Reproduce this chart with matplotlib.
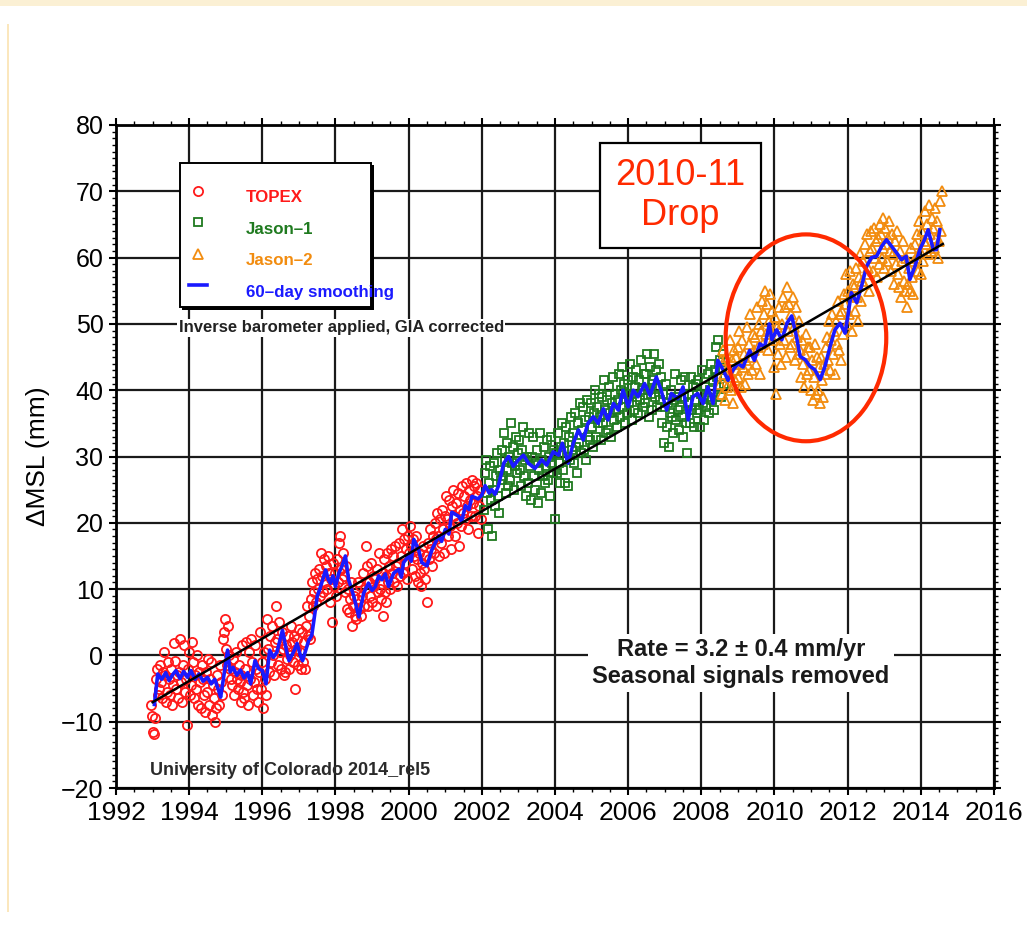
import matplotlib
matplotlib.use("Agg")
import matplotlib.pyplot as plt
from matplotlib.patches import Rectangle, Ellipse
from matplotlib.ticker import MultipleLocator
import numpy as np

plt.rcParams['font.family'] = ['Liberation Sans', 'DejaVu Sans']

# altimeter repeat cycle, used as the sampling interval of each mission
cycle_yr = 9.9156 / 365.25

topex_start = 1992.96
topex_mm = [
    -7.5, -9.2, -11.6, -11.9, -9.5, -3.5, -2.0, -6.0, -5.0,
    -1.5, -4.0, -6.5, -2.5, 0.5, -3.0, -7.0, -5.5, -1.0,
    -3.5, -6.0, -2.0, -7.5, -4.5, 1.8, -0.8, -5.0, -3.0,
    -6.5, -2.5, 2.5, -4.0, -7.0, -1.5, 1.5, -5.5, -3.5,
    -10.5, -2.0, 0.5, -6.0, -4.5, 2.0, -1.0, -6.5, -3.0,
    -5.0, 0.0, -7.5, -2.5, -4.0, -8.0, -1.5, -3.5, -6.0,
    -8.5, -2.5, -5.5, -0.5, -7.5, -3.5, -1.0, -9.0, -4.5,
    -6.5, -10.0, -8.0, -3.0, -5.0, -7.5, -1.5, -4.0, -6.0,
    2.5, 3.5, 5.5, 1.0, -1.5, 4.5, 0.0, -2.0, -3.5,
    -4.5, -0.5, -6.0, -2.5, 0.5, -3.5, -5.0, -1.5, -4.0,
    -7.0, -3.0, 1.5, -5.5, -6.5, -2.0, 2.0, -4.5, -7.5,
    0.5, -3.5, 2.5, -1.0, -6.0, -4.0, 1.5, -2.0, -5.0,
    -7.0, -2.5, 3.5, -5.0, -1.0, -8.0, 0.5, -3.5, -6.0,
    5.5, 1.0, -2.5, 3.0, -1.0, 4.5, 0.0, -3.0, 2.0,
    7.5, 2.5, -1.5, 5.0, 0.5, -2.0, 3.5, 1.0, -3.0,
    -2.5, 1.5, -0.5, 3.0, -2.0, 0.0, 4.5, 2.0, -1.0,
    3.0, -5.0, 1.0, 2.5, -1.5, 4.0, 0.5, -2.0, 3.5,
    -1.0, 2.0, -2.0, 4.5, 7.5, 3.0, 6.0, 2.5, 8.5,
    11.0, 7.5, 9.5, 12.5, 8.0, 11.5, 10.0, 13.0, 9.0,
    15.5, 12.0, 9.5, 14.5, 11.0, 13.5, 10.0, 15.0, 12.5,
    8.0, 11.5, 5.0, 14.0, 10.5, 12.5, 9.0, 14.5, 11.0,
    17.0, 18.0, 13.0, 11.5, 15.5, 12.0, 9.5, 13.5, 7.0,
    10.0, 6.5, 8.5, 11.0, 4.5, 7.5, 9.0, 6.0, 5.5,
    8.5, 11.0, 7.0, 10.5, 6.0, 9.0, 12.5, 7.5, 10.0,
    16.5, 13.5, 7.5, 11.0, 9.0, 14.0, 8.0, 12.0, 10.5,
    11.5, 7.5, 13.0, 9.5, 15.5, 10.0, 8.5, 12.5, 6.0,
    14.5, 9.5, 12.0, 8.0, 15.5, 11.0, 13.5, 10.0, 16.0,
    12.5, 15.0, 11.0, 16.5, 13.5, 10.5, 14.0, 17.0, 12.0,
    15.0, 19.0, 12.5, 17.5, 14.0, 16.0, 11.5, 18.0, 15.5,
    19.5, 16.5, 13.0, 17.5, 15.0, 12.0, 18.0, 14.5, 11.0,
    15.5, 12.5, 10.5, 14.0, 16.5, 13.0, 11.5, 15.0, 8.0,
    17.0, 14.5, 19.0, 16.0, 13.5, 18.0, 15.5, 20.0, 17.5,
    21.5, 18.0, 15.0, 20.5, 17.0, 22.0, 19.0, 15.5, 21.0,
    24.0, 20.5, 18.0, 23.5, 19.5, 16.0, 22.5, 25.0, 21.0,
    18.0, 23.0, 20.0, 24.5, 16.5, 22.0, 19.5, 25.5, 21.5,
    24.0, 20.5, 26.0, 22.5, 19.0, 25.0, 23.5, 21.0, 26.5,
    23.0, 25.5, 21.0, 26.0, 24.0, 18.5, 22.5, 25.0, 20.5,
]

jason1_start = 2002.05
jason1_mm = [
    22.0, 27.5, 29.5, 24.5, 19.0, 26.0, 28.5, 23.5, 18.0,
    25.0, 29.0, 22.5, 27.0, 30.5, 24.0, 21.5, 28.0, 26.5,
    31.0, 27.0, 33.5, 29.5, 24.5, 32.0, 28.0, 25.5, 30.0,
    26.5, 35.0, 29.0, 31.5, 25.0, 28.5, 33.0, 27.5, 30.5,
    32.5, 28.0, 25.5, 31.0, 34.5, 27.0, 29.5, 24.0, 30.0,
    26.0, 33.5, 28.5, 23.5, 30.0, 33.0, 27.0, 25.0, 29.0,
    31.0, 23.0, 28.0, 33.5, 24.5, 29.5, 27.0, 31.5, 26.0,
    28.5, 32.5, 26.5, 30.0, 24.0, 33.0, 29.0, 27.5, 31.0,
    20.5, 30.5, 27.5, 33.5, 29.0, 26.0, 31.5, 35.0, 28.0,
    32.0, 26.0, 34.5, 30.0, 25.5, 33.0, 29.5, 36.0, 31.0,
    33.5, 29.0, 36.5, 31.5, 27.5, 35.0, 32.0, 38.0, 30.5,
    34.0, 37.5, 31.0, 35.5, 29.5, 38.5, 33.0, 36.0, 32.5,
    38.0, 34.5, 31.5, 36.5, 40.0, 33.0, 37.5, 35.0, 39.5,
    36.0, 32.5, 39.0, 35.0, 41.5, 37.0, 33.5, 38.5, 34.0,
    40.5, 36.5, 33.0, 38.0, 42.0, 35.5, 39.5, 37.0, 34.5,
    38.5, 42.5, 36.0, 40.0, 43.5, 37.5, 41.0, 35.0, 39.5,
    36.5, 41.5, 38.0, 44.0, 39.5, 35.5, 42.0, 37.0, 40.5,
    43.0, 39.0, 36.5, 41.5, 38.5, 44.5, 40.0, 37.5, 42.5,
    38.0, 42.5, 45.5, 40.0, 36.0, 43.5, 39.5, 41.0, 37.0,
    41.5, 45.5, 39.0, 43.0, 37.5, 40.5, 44.0, 38.5, 42.0,
    35.0, 39.5, 32.0, 37.5, 41.0, 34.5, 38.0, 31.5, 36.5,
    40.0, 36.0, 33.5, 38.5, 42.5, 35.5, 39.0, 37.0, 34.0,
    37.5, 41.5, 36.0, 33.0, 39.0, 42.0, 35.0, 30.5, 38.0,
    39.5, 35.0, 42.0, 37.0, 40.5, 34.5, 38.5, 41.0, 36.5,
    41.5, 37.0, 34.5, 39.5, 43.0, 38.0, 35.5, 40.5, 37.5,
    39.0, 42.5, 36.5, 40.0, 44.0, 38.5, 41.5, 37.0, 43.0,
    46.5, 42.0, 47.5, 40.5, 44.5, 39.0, 43.0, 45.5, 41.0,
]

jason2_start = 2008.50
jason2_mm = [
    41.0, 44.5, 39.5, 46.0, 42.5, 38.5, 45.0, 40.5, 43.5,
    42.0, 47.5, 40.0, 44.5, 38.0, 46.0, 41.5, 45.0, 43.0,
    46.5, 42.0, 49.0, 44.0, 40.5, 47.5, 43.5, 45.5, 41.0,
    44.5, 49.5, 42.5, 47.0, 51.5, 45.0, 43.0, 48.5, 46.0,
    48.0, 44.0, 52.5, 46.5, 50.0, 42.5, 49.0, 53.5, 47.0,
    51.5, 55.0, 48.5, 53.0, 46.0, 50.5, 54.5, 49.0, 52.0,
    47.5, 43.5, 51.0, 39.5, 49.5, 45.5, 52.5, 47.0, 44.0,
    50.0, 54.0, 47.5, 52.5, 45.0, 55.5, 49.0, 53.0, 46.5,
    51.5, 47.0, 54.0, 49.5, 44.5, 52.5, 48.0, 45.5, 50.5,
    46.0, 42.0, 47.5, 44.0, 40.5, 45.5, 48.5, 42.5, 46.5,
    43.0, 46.5, 40.0, 44.5, 38.5, 42.0, 47.0, 39.5, 45.0,
    40.0, 43.5, 38.0, 45.0, 41.5, 39.0, 44.0, 42.5, 46.5,
    48.0, 44.5, 50.5, 43.0, 47.5, 51.5, 45.5, 49.0, 42.5,
    50.5, 47.0, 53.5, 46.0, 51.5, 44.5, 52.0, 48.5, 54.5,
    53.0, 57.5, 50.0, 55.0, 51.5, 58.0, 54.5, 49.0, 56.0,
    55.5, 52.0, 58.5, 54.0, 50.5, 57.0, 60.5, 53.5, 56.5,
    59.5, 56.0, 62.0, 57.5, 63.5, 58.5, 55.0, 61.0, 64.0,
    61.5, 58.0, 64.5, 60.0, 62.5, 57.0, 63.0, 59.0, 65.0,
    63.5, 60.0, 66.0, 61.5, 58.5, 64.5, 62.0, 59.5, 63.0,
    65.5, 61.0, 58.0, 63.5, 60.5, 56.0, 62.5, 59.0, 64.0,
    57.5, 55.5, 61.0, 54.0, 59.5, 62.5, 56.5, 55.0, 60.0,
    52.5, 56.0, 58.5, 55.0, 61.5, 57.0, 54.5, 59.5, 62.0,
    60.0, 63.5, 58.0, 65.5, 61.0, 57.5, 64.0, 59.5, 62.5,
    67.0, 62.0, 65.0, 60.5, 68.0, 63.5, 61.0, 66.0, 64.5,
    61.5, 67.5, 63.0, 65.5, 60.0, 62.5, 68.5, 64.0, 70.0,
]

# 60-day smoothed series
smooth_year = [
    1993.05, 1993.14, 1993.25, 1993.36, 1993.45, 1993.55, 1993.64, 1993.75, 1993.85, 1993.95,
    1994.05, 1994.16, 1994.27, 1994.38, 1994.50, 1994.60, 1994.70, 1994.80, 1994.86, 1994.95,
    1995.05, 1995.12, 1995.20, 1995.30, 1995.40, 1995.50, 1995.60, 1995.68, 1995.80, 1995.90,
    1996.00, 1996.10, 1996.20, 1996.30, 1996.40, 1996.55, 1996.65, 1996.73, 1996.85, 1996.95,
    1997.05, 1997.10, 1997.20, 1997.27, 1997.35, 1997.41, 1997.50, 1997.60, 1997.73, 1997.80,
    1997.86, 1997.93, 1998.00, 1998.09, 1998.18, 1998.27, 1998.36, 1998.50, 1998.64, 1998.77,
    1998.90, 1999.00, 1999.09, 1999.18, 1999.27, 1999.36, 1999.45, 1999.59, 1999.73, 1999.80,
    1999.86, 2000.00, 2000.07, 2000.14, 2000.27, 2000.36, 2000.50, 2000.57, 2000.64, 2000.82,
    2000.90, 2001.00, 2001.10, 2001.18, 2001.36, 2001.45, 2001.55, 2001.65, 2001.73, 2001.90,
    2002.00, 2002.09, 2002.20, 2002.27, 2002.36, 2002.45, 2002.60, 2002.73, 2002.86, 2003.00,
    2003.14, 2003.27, 2003.45, 2003.64, 2003.77, 2003.95, 2004.10, 2004.20, 2004.36, 2004.50,
    2004.64, 2004.77, 2004.90, 2005.05, 2005.18, 2005.32, 2005.45, 2005.60, 2005.73, 2005.86,
    2006.00, 2006.14, 2006.27, 2006.45, 2006.60, 2006.77, 2006.90, 2007.05, 2007.18, 2007.36,
    2007.50, 2007.64, 2007.77, 2007.90, 2008.05, 2008.18, 2008.32, 2008.45, 2008.60, 2008.73,
    2008.86, 2009.00, 2009.14, 2009.32, 2009.45, 2009.60, 2009.73, 2009.86, 2009.93, 2010.06,
    2010.20, 2010.34, 2010.47, 2010.60, 2010.70, 2010.84, 2010.97, 2011.10, 2011.25, 2011.38,
    2011.52, 2011.65, 2011.79, 2011.93, 2012.02, 2012.10, 2012.25, 2012.38, 2012.52, 2012.65,
    2012.79, 2012.93, 2013.06, 2013.20, 2013.34, 2013.47, 2013.60, 2013.70, 2013.84, 2013.97,
    2014.10, 2014.20, 2014.34, 2014.43, 2014.52,
]
smooth_mm = [
    -7.4, -2.8, -3.6, -2.6, -3.8, -2.9, -2.3, -3.5, -2.4, -3.3,
    -2.3, -3.6, -2.8, -3.9, -3.3, -4.3, -3.6, -5.2, -6.3, -3.0,
    0.8, -2.5, -1.8, -3.0, -2.2, -3.4, -2.6, -4.3, -0.8, -2.0,
    -2.3, -4.3, 0.8, -0.3, 0.5, 3.8, 1.0, -0.8, 0.5, 1.8,
    -0.2, -0.8, 1.0, 2.3, 3.0, 5.3, 8.9, 10.5, 12.9, 11.5,
    10.9, 12.0, 10.4, 12.4, 13.5, 15.0, 11.4, 8.9, 5.8, 9.4,
    10.9, 9.8, 10.4, 12.0, 11.4, 12.3, 10.4, 12.4, 13.0, 11.8,
    14.0, 15.0, 14.2, 17.5, 16.0, 14.0, 13.5, 14.8, 16.0, 18.0,
    17.2, 19.0, 18.3, 21.6, 21.0, 20.2, 22.6, 22.0, 24.0, 23.6,
    24.2, 25.6, 24.5, 25.0, 24.3, 25.5, 29.0, 30.0, 28.5, 29.5,
    30.2, 29.0, 28.2, 29.5, 28.7, 30.7, 30.2, 32.0, 29.0, 32.0,
    34.0, 32.5, 35.0, 36.0, 35.0, 37.2, 35.5, 38.0, 37.0, 40.0,
    37.5, 40.0, 39.0, 41.0, 39.2, 42.0, 40.0, 37.0, 39.5, 38.7,
    40.5, 35.5, 39.0, 39.5, 38.0, 40.5, 38.0, 44.5, 43.0, 41.5,
    43.0, 44.0, 43.5, 46.0, 44.5, 47.0, 46.5, 50.0, 47.6, 49.1,
    47.6, 50.1, 51.2, 48.1, 45.1, 44.6, 43.6, 43.1, 41.6, 43.6,
    46.6, 49.1, 50.1, 48.6, 51.7, 54.7, 53.2, 55.7, 58.7, 60.0,
    60.2, 61.7, 62.7, 61.7, 60.7, 59.7, 60.2, 56.7, 58.7, 61.2,
    62.7, 64.2, 61.2, 61.2, 64.2,
]

# linear trend: rate in mm/yr about the centre of the record
rate = 3.2
trend_year = [1993.0, 2014.6]
trend_centre = (2003.8, 27.5)

x_ticks = list(range(1992, 2017, 2))
y_ticks = list(range(-20, 81, 10))

legend_entries = [
    ('TOPEX', '#ff1a1a', 'o'),
    ('Jason\u20131', '#1f7a1f', 's'),
    ('Jason\u20132', '#f28c0f', '^'),
    ('60\u2013day smoothing', '#1a1aff', '_'),
]
marker_size = {'o': 6.6, 's': 5.8, '^': 7.0}

W, H = 1027, 926
fig = plt.figure(figsize=(W / 100, H / 100), dpi=100)
fig.patch.set_facecolor('white')

# slide frame
fig.patches.append(Rectangle((0, 1 - 6 / H), 1, 6 / H, transform=fig.transFigure,
                             facecolor='#fbf0d4', edgecolor='none'))
fig.patches.append(Rectangle((7 / W, 1 - 912 / H), 1.5 / W, (912 - 24) / H, transform=fig.transFigure,
                             facecolor='#fbe7bd', edgecolor='none'))

ax = fig.add_axes([116 / W, 1 - 788 / H, (994 - 116) / W, (788 - 125) / H])
ax.set_xlim(1992, 2016)
ax.set_ylim(-20, 80)
ax.set_xticks(x_ticks)
ax.set_yticks(y_ticks)
ax.xaxis.set_minor_locator(MultipleLocator(0.5))
ax.yaxis.set_minor_locator(MultipleLocator(1))
ax.set_yticklabels(['\u221220' if v == -20 else ('\u221210' if v == -10 else str(v)) for v in y_ticks])
ax.grid(True, which='major', color='#1a1a1a', linewidth=1.6, zorder=0)
ax.set_axisbelow(True)
for s in ax.spines.values():
    s.set_linewidth(2.0)
ax.tick_params(which='both', direction='out', top=True, right=True)
ax.tick_params(axis='x', labelsize=19)
ax.tick_params(axis='y', labelsize=18)
ax.tick_params(which='major', length=5, width=1.5, pad=4)
ax.tick_params(which='minor', length=3, width=1.0)
ax.set_ylabel('\u0394MSL (mm)', fontsize=19, labelpad=8)

t_topex = topex_start + cycle_yr * np.arange(len(topex_mm))
t_j1 = jason1_start + cycle_yr * np.arange(len(jason1_mm))
t_j2 = jason2_start + cycle_yr * np.arange(len(jason2_mm))

for t, v, (label, color, marker) in zip([t_topex, t_j1, t_j2],
                                        [topex_mm, jason1_mm, jason2_mm],
                                        legend_entries[:3]):
    ax.plot(t, v, marker, ms=marker_size[marker], mfc='none', mec=color, mew=1.3, zorder=2)
ax.plot(smooth_year, smooth_mm, '-', color=legend_entries[3][1], lw=2.6, zorder=3)

trend_mm = [trend_centre[1] + rate * (t - trend_centre[0]) for t in trend_year]
ax.plot(trend_year, trend_mm, '-', color='black', lw=1.8, zorder=4)

# legend box with drop shadow
lx0, lx1, ly0, ly1 = 1993.74, 1998.98, 52.5, 74.3
ax.add_patch(Rectangle((lx0 + 0.07, ly0 - 0.35), lx1 - lx0, ly1 - ly0, facecolor='black',
                       edgecolor='none', zorder=5))
ax.add_patch(Rectangle((lx0, ly0), lx1 - lx0, ly1 - ly0, facecolor='white',
                       edgecolor='black', lw=1.4, zorder=6))
rows_y = [69.0, 64.3, 59.6, 54.8]
for (label, color, marker), yy in zip(legend_entries, rows_y):
    if marker == '_':
        ax.plot([1994.0, 1994.5], [yy + 1.1, yy + 1.1], color=color, lw=2.6, zorder=7)
    else:
        ax.plot([1994.23], [yy + 1.0], marker, ms=marker_size[marker], mfc='none',
                mec=color, mew=1.3, zorder=7)
    ax.text(1995.54, yy, label, color=color, fontsize=12.2, fontweight='bold',
            va='center', ha='left', zorder=7)

ax.text(1998.16, 49.4, 'Inverse barometer applied, GIA corrected', fontsize=12,
        fontweight='bold', color='#222222', ha='center', va='center', zorder=6,
        bbox=dict(facecolor='white', edgecolor='none', pad=1.0))

ax.text(1992.93, -17.3, 'University of Colorado 2014_rel5', fontsize=13,
        fontweight='bold', color='#2a2a2a', ha='left', va='center', zorder=6)

ax.text(2009.08, -1.15, 'Rate = 3.2 \u00b1 0.4 mm/yr\nSeasonal signals removed',
        fontsize=17, fontweight='bold', color='#1a1a1a', ha='center', va='center',
        linespacing=1.2, zorder=6,
        bbox=dict(facecolor='white', edgecolor='none', pad=3))

# highlighted drop
ax.add_patch(Rectangle((2005.24, 61.4), 2009.63 - 2005.24, 77.3 - 61.4, facecolor='white',
                       edgecolor='black', lw=1.6, zorder=6))
ax.text(2007.43, 69.35, '2010-11\nDrop', color='#ff2a00', fontsize=26, ha='center',
        va='center', linespacing=1.2, zorder=7)
ax.add_patch(Ellipse((2010.86, 47.9), 4.39, 31.2, facecolor='none', edgecolor='#ff2a00',
                     lw=3.0, zorder=8))

fig.savefig('out.png', dpi=100)
